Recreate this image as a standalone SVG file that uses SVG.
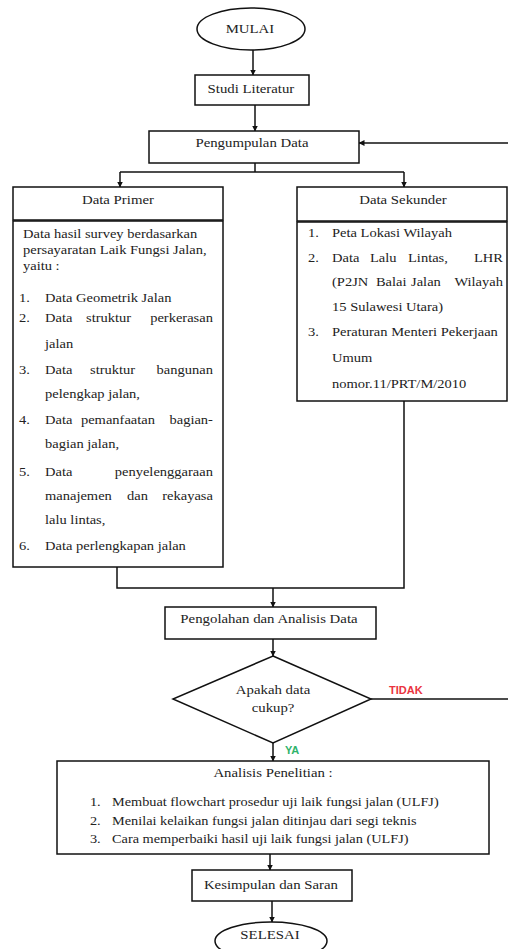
<svg xmlns="http://www.w3.org/2000/svg" width="508" height="949" viewBox="0 0 508 949">
<style>
.box{fill:#fff;stroke:#111;stroke-width:1.5}
.ln{fill:none;stroke:#111;stroke-width:1.5}
.t{font-family:"Liberation Serif","Times New Roman",serif;font-size:12px;fill:#222}
.m{text-anchor:middle}
.e{text-anchor:end}
.lbl{font-family:"Liberation Sans",Arial,sans-serif;font-weight:bold;font-size:11px}
</style>
<defs>
<marker id="ar" markerWidth="6" markerHeight="6" refX="5.5" refY="3" orient="auto" markerUnits="userSpaceOnUse">
<path d="M0,0 L6,3 L0,6 z" fill="#111"/>
</marker>
</defs>
<rect width="508" height="949" fill="#fff"/>

<g id="connectors">
<line class="ln" x1="253" y1="50" x2="253" y2="75" marker-end="url(#ar)"/>
<line class="ln" x1="255" y1="105" x2="255" y2="131" marker-end="url(#ar)"/>
<polyline class="ln" points="255,163 255,172"/>
<polyline class="ln" points="120,172 404,172"/>
<line class="ln" x1="120" y1="172" x2="120" y2="187" marker-end="url(#ar)"/>
<line class="ln" x1="404" y1="172" x2="404" y2="187" marker-end="url(#ar)"/>
<polyline class="ln" points="117,567 117,588 404,588 404,401"/>
<line class="ln" x1="273" y1="588" x2="273" y2="607" marker-end="url(#ar)"/>
<line class="ln" x1="273" y1="639" x2="273" y2="656" marker-end="url(#ar)"/>
<line class="ln" x1="273" y1="743" x2="273" y2="761" marker-end="url(#ar)"/>
<line class="ln" x1="270" y1="854" x2="270" y2="870" marker-end="url(#ar)"/>
<line class="ln" x1="272" y1="901" x2="272" y2="922" marker-end="url(#ar)"/>
<line class="ln" x1="371" y1="699" x2="508" y2="699"/>
<line class="ln" x1="508" y1="143" x2="359" y2="143" marker-end="url(#ar)"/>
<text class="lbl" x="389" y="694" fill="#ea3340">TIDAK</text>
<text class="lbl" x="285" y="754" fill="#2fb36b" font-size="10.5">YA</text>
</g>

<g id="mulai">
<ellipse class="box" cx="251" cy="29" rx="54" ry="21"/>
<g transform="scale(1.235,1)"><text class="t m" x="202.4" y="33">MULAI</text></g>
</g>

<g id="studi">
<rect class="box" x="195" y="75" width="114" height="30"/>
<g transform="scale(1.235,1)"><text class="t m" x="203.2" y="93">Studi Literatur</text></g>
</g>

<g id="pengumpulan">
<rect class="box" x="149" y="131" width="210" height="32"/>
<g transform="scale(1.235,1)"><text class="t m" x="204" y="147">Pengumpulan Data</text></g>
</g>

<g id="data-primer">
<rect class="box" x="13" y="187" width="210" height="33"/>
<rect class="box" x="13" y="221" width="210" height="346"/>
<g class="t" transform="scale(1.235,1)"><text x="95.5" y="204" class="m">Data Primer</text></g>
<g class="t" transform="scale(1.21,1)">
<text x="19" y="238">Data hasil survey berdasarkan</text>
<text x="19" y="254">persayaratan Laik Fungsi Jalan,</text>
<text x="19" y="270">yaitu :</text>
<text x="15.7" y="302">1.</text><text x="37.2" y="302">Data Geometrik Jalan</text>
<text x="15.7" y="322">2.</text><text x="37.2" y="322">Data</text><text x="71.1" y="322">struktur</text><text x="176" y="322" class="e">perkerasan</text>
<text x="37.2" y="348">jalan</text>
<text x="15.7" y="374">3.</text><text x="37.2" y="374">Data</text><text x="74.4" y="374">struktur</text><text x="176" y="374" class="e">bangunan</text>
<text x="37.2" y="398">pelengkap jalan,</text>
<text x="15.7" y="424">4.</text><text x="37.2" y="424">Data</text><text x="66.9" y="424">pemanfaatan</text><text x="176" y="424" class="e">bagian-</text>
<text x="37.2" y="448">bagian jalan,</text>
<text x="15.7" y="476">5.</text><text x="37.2" y="476">Data</text><text x="176" y="476" class="e">penyelenggaraan</text>
<text x="37.2" y="500">manajemen</text><text x="105" y="500">dan</text><text x="176" y="500" class="e">rekayasa</text>
<text x="37.2" y="524">lalu lintas,</text>
<text x="15.7" y="550">6.</text><text x="37.2" y="550">Data perlengkapan jalan</text>
</g>
</g>

<g id="data-sekunder">
<rect class="box" x="297" y="187" width="210" height="34"/>
<rect class="box" x="297" y="222" width="210" height="179"/>
<g class="t" transform="scale(1.235,1)"><text x="326.3" y="204" class="m">Data Sekunder</text></g>
<g class="t" transform="scale(1.21,1)">
<text x="254.5" y="237">1.</text><text x="274.4" y="237">Peta Lokasi Wilayah</text>
<text x="254.5" y="262">2.</text><text x="274.4" y="262">Data</text><text x="305.8" y="262">Lalu</text><text x="337.2" y="262">Lintas,</text><text x="415.7" y="262" class="e">LHR</text>
<text x="274.4" y="286">(P2JN</text><text x="310.7" y="286">Balai</text><text x="339.7" y="286">Jalan</text><text x="415.7" y="286" class="e">Wilayah</text>
<text x="274.4" y="311">15 Sulawesi Utara)</text>
<text x="254.5" y="336">3.</text><text x="274.4" y="336">Peraturan Menteri Pekerjaan</text>
<text x="274.4" y="362">Umum</text>
<text x="274.4" y="388">nomor.11/PRT/M/2010</text>
</g>
</g>

<g id="pengolahan">
<rect class="box" x="165" y="607" width="211" height="32"/>
<g transform="scale(1.235,1)"><text class="t m" x="217.8" y="623">Pengolahan dan Analisis Data</text></g>
</g>

<g id="keputusan">
<polygon class="box" points="273,656 371,699 273,743 173,699"/>
<g class="t m" transform="scale(1.235,1)">
<text x="221.1" y="694">Apakah data</text>
<text x="221.1" y="712">cukup?</text>
</g>
</g>

<g id="analisis">
<rect class="box" x="57" y="761" width="432" height="93"/>
<g class="t" transform="scale(1.235,1)"><text x="221.1" y="777" class="m">Analisis Penelitian :</text></g>
<g class="t" transform="scale(1.193,1)">
<text x="75.4" y="806">1.</text><text x="93.9" y="806">Membuat flowchart prosedur uji laik fungsi jalan (ULFJ)</text>
<text x="75.4" y="825">2.</text><text x="93.9" y="825">Menilai kelaikan fungsi jalan ditinjau dari segi teknis</text>
<text x="75.4" y="843">3.</text><text x="93.9" y="843">Cara memperbaiki hasil uji laik fungsi jalan (ULFJ)</text>
</g>
</g>

<g id="kesimpulan">
<rect class="box" x="192" y="870" width="160" height="31"/>
<g transform="scale(1.235,1)"><text class="t m" x="219.4" y="889">Kesimpulan dan Saran</text></g>
</g>

<g id="selesai">
<ellipse class="box" cx="271" cy="941" rx="56" ry="19"/>
<g transform="scale(1.235,1)"><text class="t m" x="218.6" y="939">SELESAI</text></g>
</g>
</svg>
